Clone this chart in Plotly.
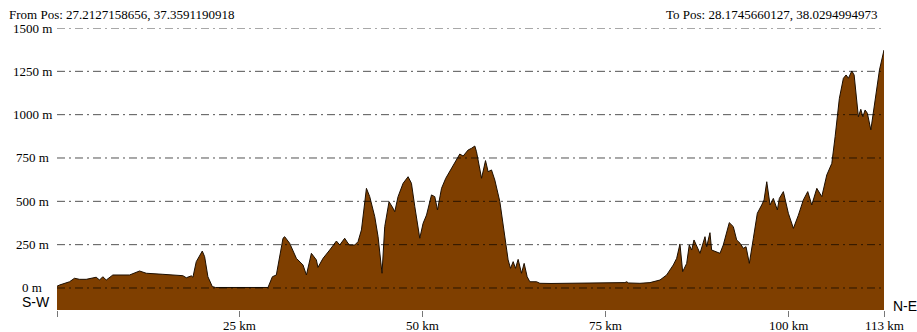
import plotly.graph_objects as go

# Elevation profile along the route (distance in km, elevation in m)
distance_km = [
    0.0, 0.34, 1.71, 2.39, 3.08, 3.99, 5.36, 5.81, 6.26, 6.73, 7.63, 9.91, 11.28, 12.20,
    14.47, 17.20, 17.67, 18.35, 18.57, 19.03, 19.85, 20.17, 20.62, 21.22, 21.67, 28.83,
    29.43, 29.97, 30.88, 31.11, 31.79, 32.71, 33.61, 34.08, 34.76, 35.44, 35.66, 36.35,
    37.26, 38.18, 38.63, 39.31, 39.76, 40.0, 40.68, 41.13, 41.60, 42.28, 42.73, 43.42,
    43.87, 44.41, 44.78, 45.37, 45.92, 46.15, 46.60, 47.29, 47.97, 48.43, 48.89, 49.57,
    50.02, 50.49, 51.17, 51.62, 51.99, 52.54, 53.12, 53.90, 55.04, 55.49, 56.17, 56.64,
    57.09, 57.32, 58.01, 58.55, 58.91, 59.37, 59.82, 60.51, 61.19, 61.64, 61.97, 62.33,
    62.65, 63.01, 63.47, 63.83, 64.24, 64.61, 65.53, 65.98, 67.5, 70.0, 72.5, 74.2,
    76.0, 77.6, 77.83, 78.1, 79.65, 81.02, 82.39, 83.30, 84.21, 84.67, 85.12, 85.49,
    86.04, 86.39, 86.72, 87.04, 87.86, 88.54, 88.77, 89.22, 89.45, 89.91, 90.59, 91.04,
    91.86, 92.41, 92.87, 93.33, 93.78, 94.15, 94.60, 95.15, 95.69, 96.29, 96.61, 96.98,
    97.43, 97.88, 98.43, 98.70, 99.25, 99.93, 100.62, 101.30, 101.98, 102.58, 103.13,
    103.82, 104.50, 105.18, 105.87, 106.32, 106.90, 107.45, 107.82, 108.14, 108.60,
    108.92, 109.29, 109.50, 109.83, 110.11, 110.42, 110.73, 111.20, 111.79, 112.38, 113.0,
]
elevation_m = [
    10, 17, 36, 56, 50, 50, 62, 46, 65, 46, 75, 75, 98, 85,
    79, 71, 59, 70, 62, 152, 213, 181, 65, 8, 3, 3,
    65, 75, 287, 296, 258, 171, 133, 75, 200, 162, 119, 171,
    219, 271, 248, 287, 258, 248, 248, 267, 335, 575, 527, 411,
    296, 85, 354, 498, 460, 440, 527, 604, 642, 604, 469, 287,
    373, 421, 537, 527, 450, 575, 633, 690, 773, 761, 796, 806,
    819, 786, 633, 735, 671, 681, 623, 498, 296, 162, 113, 152,
    113, 165, 85, 142, 65, 36, 36, 27, 26, 27, 28, 29,
    30, 31, 36, 29, 27, 31, 46, 75, 133, 171, 254, 94,
    142, 248, 219, 277, 200, 296, 238, 319, 219, 210, 200, 248,
    377, 354, 277, 258, 229, 238, 142, 287, 431, 479, 508, 613,
    479, 517, 450, 517, 556, 431, 344, 420, 508, 556, 479,
    575, 527, 652, 719, 873, 1094, 1210, 1229, 1210, 1252,
    1229, 1066, 988, 1031, 988, 1027, 1008, 912, 1085, 1258, 1373,
]

y_ticks = [0, 250, 500, 750, 1000, 1250, 1500]
y_tick_text = [f"{v} m" for v in y_ticks]
x_ticks = [0, 25, 50, 75, 100, 113]
x_tick_text = ["", "25 km", "50 km", "75 km", "100 km", "113 km"]
y_floor = -127

start_label = "From Pos: 27.2127158656, 37.3591190918"
end_label = "To Pos: 28.1745660127, 38.0294994973"
start_dir = "S-W"
end_dir = "N-E"

serif = "Liberation Serif"
sans = "Liberation Sans"

fig = go.Figure()

# invisible floor line so the terrain fill reaches the bottom of the plot
fig.add_trace(go.Scatter(
    x=distance_km, y=[y_floor] * len(distance_km),
    mode="lines", line=dict(width=0), hoverinfo="skip", showlegend=False,
))
fig.add_trace(go.Scatter(
    x=distance_km, y=elevation_m,
    mode="lines", fill="tonexty", fillcolor="#7F3F00",
    line=dict(color="#1c0e00", width=1), showlegend=False,
))

# dash-dot elevation grid drawn over the terrain
for v in y_ticks:
    fig.add_shape(
        type="line", xref="paper", yref="y", x0=0, x1=1, y0=v, y1=v,
        line=dict(color="rgba(0,0,0,0.68)", width=1, dash="8px,4px,2px,4px"),
        layer="above",
    )

annotations = []
for v, t in zip(y_ticks, y_tick_text):
    annotations.append(dict(
        text=t, xref="paper", yref="y", x=0, y=v, xshift=-25,
        xanchor="center", yanchor="middle", showarrow=False,
        font=dict(family=serif, size=13, color="#000"),
    ))
for v, t in zip(x_ticks, x_tick_text):
    if t:
        annotations.append(dict(
            text=t, xref="x", yref="paper", x=v, y=0, yshift=-15,
            xanchor="center", yanchor="middle", showarrow=False,
            font=dict(family=serif, size=13, color="#000"),
        ))

annotations += [
    dict(text=start_label, xref="paper", yref="paper", x=0, y=1, xshift=-50, yshift=14,
         xanchor="left", yanchor="middle", showarrow=False,
         font=dict(family=serif, size=13, color="#000")),
    dict(text=end_label, xref="paper", yref="paper", x=1, y=1, xshift=-5, yshift=14,
         xanchor="right", yanchor="middle", showarrow=False,
         font=dict(family=serif, size=13, color="#000")),
    dict(text=start_dir, xref="paper", yref="paper", x=0, y=0, xshift=-5, yshift=8,
         xanchor="right", yanchor="middle", showarrow=False,
         font=dict(family=sans, size=14, color="#000")),
    dict(text=end_dir, xref="paper", yref="paper", x=1, y=0, xshift=7, yshift=4,
         xanchor="left", yanchor="middle", showarrow=False,
         font=dict(family=sans, size=14, color="#000")),
]

fig.update_layout(
    width=917, height=332,
    margin=dict(l=57, r=33, t=28, b=22, pad=0, autoexpand=False),
    paper_bgcolor="white", plot_bgcolor="white",
    annotations=annotations,
    xaxis=dict(
        range=[0, 113], tickvals=x_ticks, showticklabels=False,
        ticks="outside", ticklen=6, tickcolor="#777", tickwidth=1,
        showgrid=False, zeroline=False, showline=False, automargin=False,
        fixedrange=True,
    ),
    yaxis=dict(
        range=[y_floor, 1500], tickvals=y_ticks, showticklabels=False,
        showgrid=False, zeroline=False, showline=False, automargin=False,
        fixedrange=True,
    ),
)

fig.write_html("out.html")
